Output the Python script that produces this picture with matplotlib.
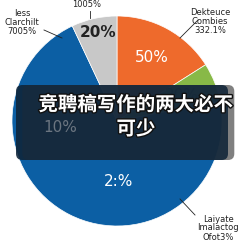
import matplotlib
matplotlib.use('Agg')
import matplotlib.pyplot as plt
import matplotlib.patheffects as pe
from matplotlib.patches import FancyBboxPatch

plt.rcParams['font.family'] = ['Noto Sans CJK SC', 'DejaVu Sans']

# slices, clockwise from 12 o'clock
shares = [16, 6, 71, 7]
colors = ['#EE6A2C', '#88B947', '#0C5FA4', '#C8C8C8']
pct_labels = ['50%', '20%', '2:%', '20%']
pct_colors = ['white', '#3a4a30', 'white', '#222222']
outer_labels = ['Dekteuce\nCombies\n332.1%', '', 'Laiyate\nImalactog\nOfot3%', '1005%']
side_label = 'Iess\nClarchilt\n7005%'
title = '竞聘稿写作的两大必不\n可少'

fig = plt.figure(figsize=(2.43, 2.43), dpi=100)
ax = fig.add_axes([0, 0, 1, 1])

R = 105.0  # pixel radius
cx, cy = 117, 121


def p(x, y):
    # image pixel -> data coords
    return (x - cx) / R, (cy - y) / R


wedges, _ = ax.pie(shares, colors=colors, startangle=90, counterclock=False,
                   radius=1, wedgeprops=dict(linewidth=0.5, edgecolor='white'))

# percent labels inside slices
pct_pos = [(152, 58), (182, 96), (119, 182), (98, 33)]
pct_weight = ['normal', 'normal', 'normal', 'bold']
for lab, col, w, (x, y) in zip(pct_labels, pct_colors, pct_weight, pct_pos):
    ax.text(*p(x, y), lab, ha='center', va='center', fontsize=11,
            color=col, fontweight=w, family='DejaVu Sans', zorder=3)

ax.text(*p(60, 128), '10%', ha='center', va='center', fontsize=11,
        color='#6b7580', family='DejaVu Sans', zorder=6)

# outer labels with leader lines
out_pos = [(210, 22), None, (218, 228), (87, 5)]
line_pts = [((180, 38), (198, 20)), None, ((180, 199), (195, 215)), ((90, 18), (90, 11))]
for lab, pos, ln in zip(outer_labels, out_pos, line_pts):
    if not lab:
        continue
    ax.text(*p(*pos), lab, ha='center', va='center', fontsize=6,
            color='#222222', family='DejaVu Sans', linespacing=1.0)
    (x1, y1), (x2, y2) = ln
    ax.plot([p(x1, y1)[0], p(x2, y2)[0]], [p(x1, y1)[1], p(x2, y2)[1]],
            color='#222222', lw=0.6)

ax.text(*p(22, 23), side_label, ha='center', va='center', fontsize=6,
        color='#222222', family='DejaVu Sans', linespacing=1.0)
ax.plot([p(44, 30)[0], p(62, 38)[0]], [p(44, 30)[1], p(62, 38)[1]],
        color='#222222', lw=0.6)

# dark overlay box with title
bx0, by0 = p(16, 160)
bx1, by1 = p(228, 85)
shadow = FancyBboxPatch((bx0 + 0.06, by0), bx1 - bx0, by1 - by0,
                        boxstyle='round,pad=0,rounding_size=0.06',
                        fc='#555555', ec='none', alpha=0.75, zorder=4)
ax.add_patch(shadow)
box = FancyBboxPatch((bx0, by0), bx1 - bx0, by1 - by0,
                     boxstyle='round,pad=0,rounding_size=0.06',
                     fc='#0f2438', ec='none', alpha=0.88, zorder=5)
ax.add_patch(box)

ax.text(*p(136, 117), title, ha='center', va='center', fontsize=14,
        fontweight='bold', color='white', zorder=7, linespacing=1.35,
        path_effects=[pe.withStroke(linewidth=2, foreground='#111111')])

ax.set_xlim(-cx / R, (243 - cx) / R)
ax.set_ylim((cy - 243) / R, cy / R)
ax.set_aspect('auto')
ax.axis('off')

fig.savefig('out.png', dpi=100)
